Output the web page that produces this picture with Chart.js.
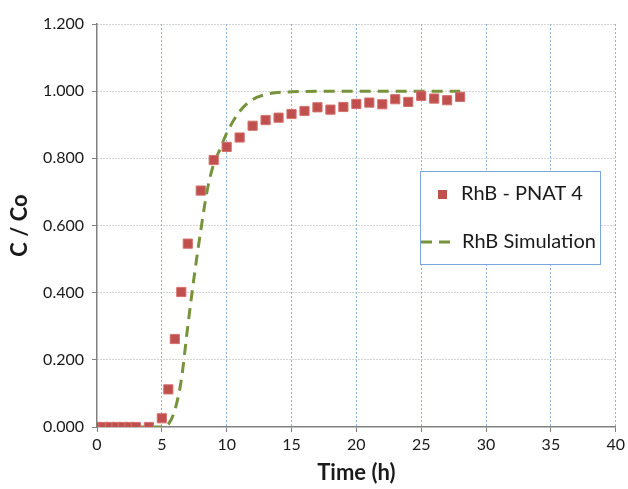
<!DOCTYPE html>
<html>
<head>
<meta charset="utf-8">
<script src="https://cdn.jsdelivr.net/npm/chart.js@4.4.1/dist/chart.umd.min.js"></script>
<style>
  html, body { margin: 0; padding: 0; background: #fff; }
  #wrap { width: 628px; height: 489px; position: relative; }
</style>
</head>
<body>
<div id="wrap"><canvas id="chart"></canvas></div>
<script>
'use strict';

// ******* DATA *******
let measuredTime = [0, 0.5, 1, 1.5, 2, 2.5, 3, 4, 5, 5.5, 6, 6.5, 7, 8, 9, 10, 11, 12, 13, 14, 15, 16, 17, 18, 19, 20, 21, 22, 23, 24, 25, 26, 27, 28];
let measuredValue = [0, 0, 0, 0, 0, 0, 0, 0, 0.026, 0.112, 0.262, 0.402, 0.546, 0.704, 0.795, 0.834, 0.862, 0.897, 0.914, 0.921, 0.932, 0.941, 0.952, 0.945, 0.953, 0.962, 0.966, 0.961, 0.976, 0.968, 0.986, 0.978, 0.973, 0.983];

let simTime = [0, 1, 2, 3, 4, 5, 5.5, 6, 6.5, 7, 7.5, 8, 8.5, 9, 9.5, 10, 11, 12, 13, 14, 15, 16, 18, 20, 22, 24, 26, 28];
let simValue = [0, 0, 0, 0, 0, 0, 0.008, 0.05, 0.14, 0.30, 0.45, 0.585, 0.705, 0.783, 0.828, 0.875, 0.94, 0.975, 0.99, 0.996, 0.998, 0.999, 1, 1, 1, 1, 1, 1];

let seriesNames = ['RhB - PNAT 4', 'RhB Simulation'];
let xTicks = [0, 5, 10, 15, 20, 25, 30, 35, 40];
let yTicks = [0, 0.2, 0.4, 0.6, 0.8, 1.0, 1.2];

// ***** HELPERS *****
function toPoints(xs, ys) {
  let pts = [];
  for (let i = 0; i < xs.length; i++) {
    pts.push({ x: xs[i], y: ys[i] });
  }
  return pts;
}

// no dotted grid line on top of the axis itself
function gridColor(color) {
  return ctx => (ctx.tick && ctx.tick.value === 0) ? 'rgba(0,0,0,0)' : color;
}

// legend drawn inside the plot, like the original
let boxLegend = {
  id: 'boxLegend',
  afterDraw(chart) {
    let ctx = chart.ctx;
    let ds = chart.data.datasets;
    ctx.save();
    ctx.fillStyle = '#ffffff';
    ctx.strokeStyle = '#7aa6dc';
    ctx.lineWidth = 1;
    ctx.fillRect(420, 171, 180, 93);
    ctx.strokeRect(420.5, 171.5, 180, 93);

    // marker
    ctx.fillStyle = ds[0].backgroundColor;
    ctx.fillRect(438, 190, 9, 9);

    // dashed sample
    ctx.strokeStyle = ds[1].borderColor;
    ctx.lineWidth = ds[1].borderWidth;
    ctx.setLineDash(ds[1].borderDash);
    ctx.beginPath();
    ctx.moveTo(421, 242);
    ctx.lineTo(455, 242);
    ctx.stroke();
    ctx.setLineDash([]);

    ctx.fillStyle = '#1a1a1a';
    ctx.font = '20px Lato';
    ctx.textBaseline = 'middle';
    ctx.fillText(ds[0].label, 461, 194);
    ctx.fillText(ds[1].label, 462, 242);
    ctx.restore();
  }
};

// ***** CHART *****
let canvasElem = document.getElementById('chart');
Chart.defaults.font.family = 'Lato';
Chart.defaults.color = '#1a1a1a';

let chartObj = {
  type: 'scatter',
  data: {
    datasets: [{
      label: seriesNames[0],
      data: toPoints(measuredTime, measuredValue),
      pointStyle: 'rect',
      pointRadius: 6.5,
      backgroundColor: '#c0504d',
      borderColor: '#d4716e',
      borderWidth: 1,
      showLine: false,
      order: 1
    },
    {
      label: seriesNames[1],
      data: toPoints(simTime, simValue),
      showLine: true,
      pointRadius: 0,
      borderColor: '#77933c',
      borderWidth: 3,
      borderDash: [11, 7],
      cubicInterpolationMode: 'monotone',
      order: 2
    }]
  },
  plugins: [boxLegend],
  options: {
    responsive: true,
    maintainAspectRatio: false,
    animation: false,
    layout: { padding: { left: 0, right: 11, top: 24, bottom: 0 } },
    plugins: {
      legend: { display: false },
      tooltip: { enabled: false }
    },
    scales: {
      x: {
        type: 'linear',
        min: 0,
        max: 40,
        afterBuildTicks(scale) {
          scale.ticks = xTicks.map(v => ({ value: v }));
        },
        afterFit(scale) {
          scale.height = 62;
        },
        ticks: { font: { size: 16 }, padding: 3, maxRotation: 0 },
        grid: {
          color: gridColor('#8fb4e3'),
          tickLength: 5,
          tickColor: '#808080',
          tickBorderDash: []
        },
        border: { color: '#808080', width: 1.5, dash: [2, 2] },
        title: {
          display: true,
          text: 'Time (h)',
          font: { size: 22, weight: 'bold' },
          padding: { top: 0, bottom: 3 }
        }
      },
      y: {
        min: 0,
        max: 1.2,
        afterBuildTicks(scale) {
          scale.ticks = yTicks.map(v => ({ value: v }));
        },
        afterFit(scale) {
          scale.width = 97;
        },
        ticks: {
          font: { size: 16 },
          padding: 8,
          callback: v => v.toFixed(3)
        },
        grid: {
          color: gridColor('#a6a6a6'),
          tickLength: 5,
          tickColor: '#808080',
          tickBorderDash: []
        },
        border: { color: '#808080', width: 1.5, dash: [1, 2] },
        title: {
          display: true,
          text: 'C / Co',
          font: { size: 22, weight: 'bold' },
          padding: { top: 7, bottom: 0 }
        }
      }
    }
  }
};

new Chart(canvasElem, chartObj);
</script>
</body>
</html>
